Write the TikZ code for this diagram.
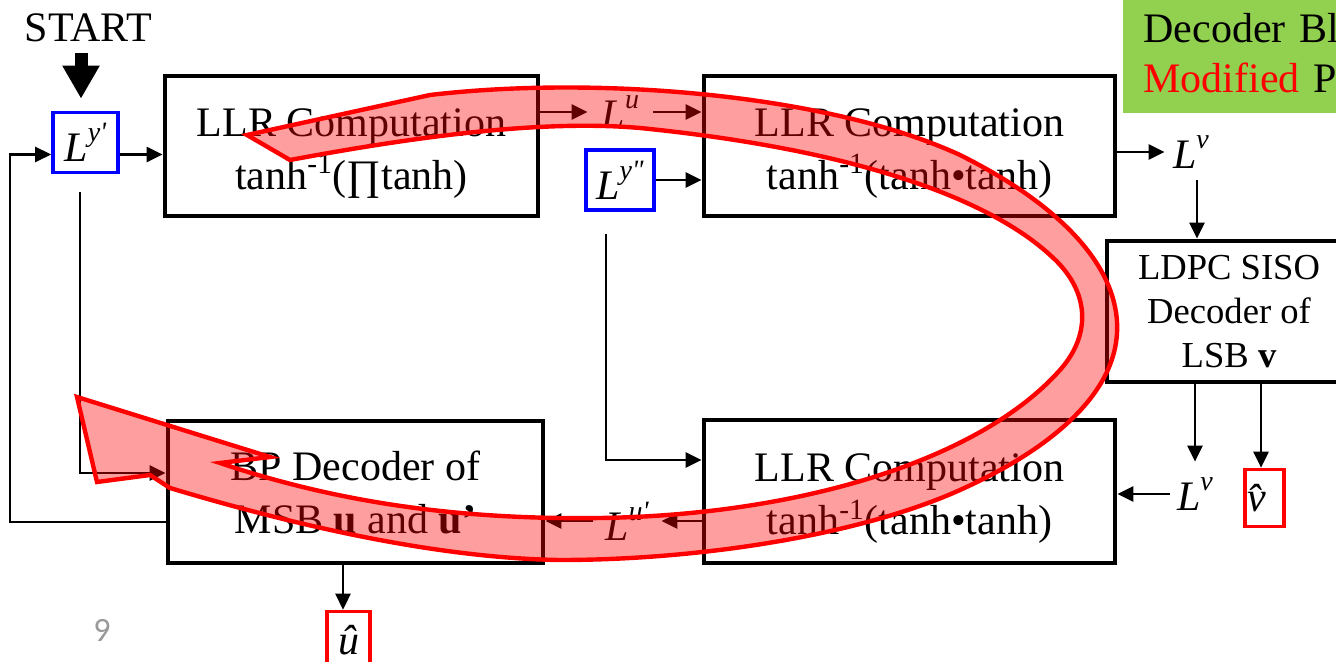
\documentclass[tikz,border=0pt]{standalone}
\usepackage{fontspec}
\setmainfont{Liberation Serif}
\newfontfamily\slidefont{Carlito}
\usetikzlibrary{arrows.meta,calc}

% L with a small italic superscript, as in the LLR labels
\newcommand{\Lsym}[1]{\textit{L}\raisebox{0.47em}{\fontsize{14}{14}\selectfont\textit{#1}}}
% extra head room that sets the first text line a little lower in a block
\newcommand{\headroom}{\rule{0pt}{21pt}}

\definecolor{leafgreen}{RGB}{146,208,80}

\begin{document}
\begin{tikzpicture}[x=0.5pt,y=-0.5pt,
  every node/.style={inner sep=0pt, font=\fontsize{21}{26.5}\selectfont},
  block/.style={draw, line width=2.4pt, align=center},
  inbox/.style={draw=blue, line width=1.8pt},
  outbox/.style={draw=red, line width=1.8pt},
  conn/.style={line width=1.3pt, -{Triangle[length=8pt,width=7.5pt]}},
  loopband/.style={draw=red, line width=2.2pt, fill=red, fill opacity=0.38,
    line join=miter, miter limit=5}
]
\useasboundingbox (0,0) rectangle (1336,662);
\clip (0,0) rectangle (1336,662);

% note in the upper right corner
\node[fill=leafgreen, anchor=north west, align=left, text width=200pt,
      inner xsep=10pt, minimum height=60pt, font=\fontsize{21}{25}\selectfont] (note) at (1123,-7)
  {Decoder Bl\\\textcolor{red}{Modified} P};

% processing blocks
\node[block, minimum width=186.5pt, minimum height=70pt] (box1) at (351.5,146)
  {\headroom LLR Computation\\tanh\textsuperscript{-1}(∏tanh)};
\node[block, minimum width=205.5pt, minimum height=70pt] (box2) at (909.5,146)
  {\headroom LLR Computation\\tanh\textsuperscript{-1}(tanh•tanh)};
\node[block, minimum width=205.5pt, minimum height=71.5pt] (box3) at (909.5,491.5)
  {\headroom LLR Computation\\tanh\textsuperscript{-1}(tanh•tanh)};
\node[block, minimum width=187.5pt, minimum height=71pt] (box4) at (355.5,492)
  {BP Decoder of\\MSB \textbf{u} and \textbf{u’}};
\node[block, minimum width=122pt, minimum height=70.5pt, font=\fontsize{18.3}{22}\selectfont] (ldpc) at (1229,311.5)
  {LDPC SISO\\Decoder of\\LSB \textbf{v}};

% start marker and channel inputs
\node (start) at (88.5,28) {START};
\node[inbox, minimum width=32.5pt, minimum height=30pt] (ly1) at (85.5,142.5) {\Lsym{y\textquotesingle}};
\node[inbox, minimum width=34pt, minimum height=30pt] (ly2) at (620,180) {\Lsym{y\textquotedbl}};

% messages between blocks
\node[minimum width=32.5pt] (lu) at (620.5,112) {\Lsym{u}};
\node[minimum width=26pt, minimum height=28pt] (lv1) at (1191,152) {\Lsym{v}};
\node[minimum width=25pt, minimum height=32pt] (lv2) at (1195,494) {\Lsym{v}};
\node[minimum width=34pt] (lu2) at (627,521) {\Lsym{u\textquotesingle}};

% decisions
\node[outbox, minimum width=19.5pt, minimum height=28.5pt] (vhat) at (1264.5,498) {\textit{\^{v}}};
\node[outbox, minimum width=21.5pt, minimum height=28.5pt] (uhat) at (348.5,640) {\textit{\^{u}}};

% slide number
\node[font=\slidefont\fontsize{17}{17}\selectfont, text=black!40] (pgnum) at (102,630) {9};

% connectors
\draw[line width=6.5pt, -{Triangle[length=16.5pt,width=17.5pt]}, shorten <=5pt, shorten >=6pt]
  ([xshift=-2.25pt]start.south -| ly1.north) -- ([xshift=-2.25pt]ly1.north);
\draw[conn] ([yshift=-6pt]ly1.east) -- ([yshift=-6pt]ly1.east -| box1.west);
\draw[conn] (box1.east |- lu.west) -- (lu.west);
\draw[conn] (lu.east) -- (lu.east -| box2.west);
\draw[conn] (ly2.east) -- (ly2.east -| box2.west);
\draw[conn] (box2.east |- lv1.west) -- (lv1.west);
\draw[conn] ([xshift=3pt]lv1.south) -- ([xshift=3pt]lv1.south |- ldpc.north);
\draw[conn] (lv2.north |- ldpc.south) -- (lv2.north);
\draw[conn] ([xshift=-1.75pt]vhat.north |- ldpc.south) -- ([xshift=-1.75pt]vhat.north);
\draw[conn] (lv2.west) -- (lv2.west -| box3.east);
\draw[conn] ([xshift=-7pt,yshift=-11pt]ly2.south) |- ([yshift=15.75pt]box3.west);
\draw[conn] (box3.west |- lu2.east) -- (lu2.east);
\draw[conn] (lu2.west) -- (lu2.west -| box4.east);
\draw[conn] ([xshift=-2.75pt,yshift=-9pt]ly1.south) |- ([yshift=9.5pt]box4.west);
\coordinate (fbk) at (10,154.5);
\draw[conn] ([yshift=-15pt]box4.west) -| (fbk) -- (fbk -| ly1.west);
\draw[conn] ([xshift=-2.75pt]uhat.north |- box4.south) -- ([xshift=-2.75pt]uhat.north);

% iteration loop arrow drawn over the blocks
\path[loopband] (247,135) -- (430,95)
  .. controls (600,75) and (830,95) .. (960,155)
  .. controls (1080,215) and (1120,280) .. (1117,333)
  .. controls (1114,390) and (1060,445) .. (960,490)
  .. controls (860,535) and (700,560) .. (560,560)
  .. controls (420,558) and (260,515) .. (170,488)
  -- (150,475) -- (97,482) -- (77,397) -- (270,457) -- (220,463)
  .. controls (330,500) and (450,520) .. (600,518)
  .. controls (800,515) and (980,460) .. (1060,370)
  .. controls (1092,334) and (1090,290) .. (1050,255)
  .. controls (990,200) and (860,150) .. (640,128)
  .. controls (560,121) and (450,130) .. (290,160)
  -- cycle;
\end{tikzpicture}
\end{document}
